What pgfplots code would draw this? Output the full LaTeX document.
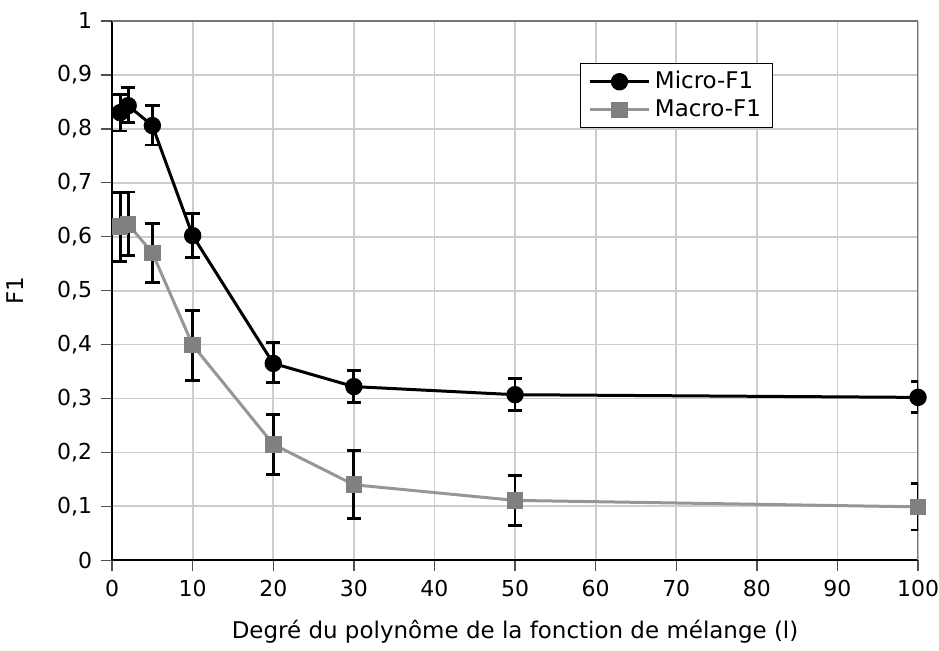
\documentclass[border=0pt]{standalone}
\usepackage{pgfplots}
\pgfplotsset{compat=1.18}
\usepackage{fontspec}
\setmainfont{DejaVu Sans}
\definecolor{macrogray}{RGB}{150,150,150}
\definecolor{macromark}{RGB}{128,128,128}
\definecolor{tickgray}{RGB}{80,80,80}
\definecolor{framegray}{RGB}{120,120,120}
\definecolor{gridgray}{RGB}{205,205,205}
\begin{document}
\begin{tikzpicture}
\begin{axis}[
    scale only axis,
    width=403.5pt,
    height=270pt,
    xmin=0, xmax=100,
    ymin=0, ymax=1,
    xtick={0,10,...,100},
    ytick={0,0.1,0.2,0.3,0.4,0.5,0.6,0.7,0.8,0.9,1},
    axis lines*=left,
    axis line style={black, line width=1.1pt},
    tick align=outside,
    major tick length=5.5pt,
    tick style={tickgray, line width=0.7pt},
    grid=major,
    grid style={gridgray, line width=0.9pt},
    /pgf/number format/use comma,
    /pgf/number format/assume math mode=true,
    tick label style={font=\fontsize{11}{13}\selectfont},
    label style={font=\fontsize{11.5}{13.5}\selectfont},
    yticklabel style={xshift=-1pt},
    xticklabel style={inner xsep=0pt, yshift=-1pt},
    xlabel={Degré du polynôme de la fonction de mélange (l)},
    ylabel={F1},
    xlabel style={yshift=-5pt},
    ylabel style={yshift=10pt},
    legend image code/.code={\draw[mark repeat=2,mark phase=2]
        plot coordinates {(0pt,0pt) (15pt,0pt) (30pt,0pt)};},
    legend style={at={(0.58,0.922)}, anchor=north west, draw=black,
        line width=0.5pt, font=\fontsize{11.5}{13.5}\selectfont,
        inner xsep=4pt, inner ysep=2pt, row sep=0pt},
    legend cell align=left,
]
\draw[framegray, line width=0.8pt] (rel axis cs:0,1) -- (rel axis cs:1,1) -- (rel axis cs:1,0);
\addplot[black, line width=1.5pt, mark=*, mark size=3.6pt,
    error bars/.cd, y dir=both, y explicit,
    error bar style={black, line width=1.4pt},
    error mark options={black, line width=1.4pt, mark size=3.6pt, rotate=90}]
    table[x=x, y=y, y error plus=ep, y error minus=em] {
x   y     ep    em
1   0.830 0.033 0.034
2   0.843 0.033 0.032
5   0.806 0.037 0.036
10  0.602 0.041 0.041
20  0.365 0.039 0.035
30  0.322 0.030 0.029
50  0.307 0.030 0.029
100 0.302 0.029 0.028
};
\addlegendentry{Micro-F1}
\addplot[macrogray, line width=1.5pt, mark=square*,
    mark options={macromark, draw=macromark, fill=macromark}, mark size=3.4pt,
    error bars/.cd, y dir=both, y explicit,
    error bar style={black, line width=1.4pt},
    error mark options={black, line width=1.4pt, mark size=3.6pt, rotate=90}]
    table[x=x, y=y, y error plus=ep, y error minus=em] {
x   y     ep    em
1   0.619 0.063 0.065
2   0.623 0.060 0.058
5   0.570 0.054 0.055
10  0.399 0.064 0.066
20  0.215 0.055 0.056
30  0.140 0.064 0.063
50  0.111 0.046 0.046
100 0.099 0.043 0.043
};
\addlegendentry{Macro-F1}
\end{axis}
\path ([yshift=10.5pt]current axis.north);
\end{tikzpicture}
\end{document}
